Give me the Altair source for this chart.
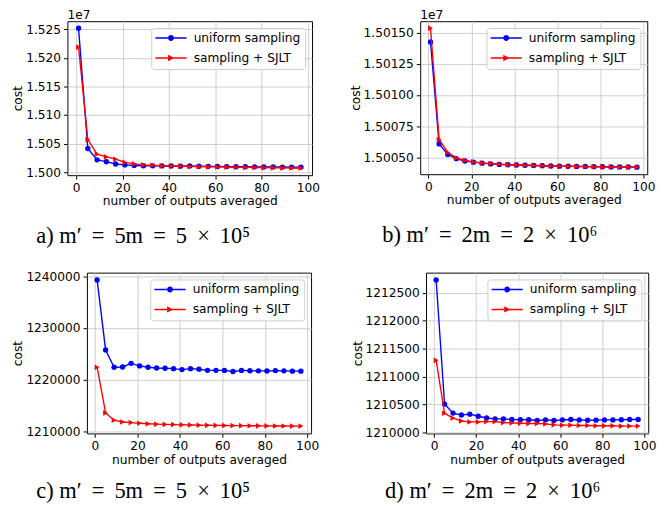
import altair as alt
import pandas as pd

# ---------------- data ----------------
N = [1, 5, 9, 13, 17, 21, 25, 29, 33, 37, 41, 45, 49, 53, 57, 61, 65, 69, 73, 77, 81, 85, 89, 93, 97]
SERIES = ["uniform sampling", "sampling + SJLT"]
COLORS = ["#0000ff", "#ff0000"]

A_UNIFORM = [15252000, 15041500, 15021600, 15018500, 15014300, 15012700, 15011800, 15011300, 15011200,
             15011000, 15010800, 15010600, 15010800, 15010400, 15010200, 15010000, 15009800, 15009600,
             15009500, 15009400, 15009200, 15009200, 15009000, 15008900, 15008800]
A_SJLT = [15219000, 15057000, 15031500, 15026800, 15022800, 15017200, 15014500, 15012700, 15012000,
          15011200, 15010800, 15010400, 15010000, 15009700, 15009400, 15009200, 15008900, 15008600,
          15008400, 15008200, 15007900, 15007700, 15007500, 15007300, 15007000]

B_UNIFORM = [15014250, 15006100, 15005250, 15004920, 15004730, 15004640, 15004560, 15004500, 15004460,
             15004430, 15004410, 15004390, 15004370, 15004350, 15004330, 15004320, 15004310, 15004300,
             15004290, 15004280, 15004270, 15004260, 15004260, 15004250, 15004240]
B_SJLT = [15015350, 15006450, 15005420, 15004970, 15004770, 15004660, 15004580, 15004520, 15004470,
          15004440, 15004410, 15004390, 15004370, 15004350, 15004330, 15004310, 15004300, 15004290,
          15004280, 15004270, 15004260, 15004250, 15004240, 15004240, 15004230]

C_UNIFORM = [1239300, 1225750, 1222400, 1222450, 1223150, 1222650, 1222400, 1222250, 1222200,
             1222130, 1221950, 1222130, 1222020, 1221800, 1221800, 1221780, 1221580, 1221780,
             1221720, 1221700, 1221690, 1221750, 1221700, 1221640, 1221640]
C_SJLT = [1222400, 1213550, 1212150, 1211800, 1211680, 1211560, 1211450, 1211380, 1211330,
          1211290, 1211250, 1211220, 1211190, 1211160, 1211140, 1211120, 1211100, 1211090,
          1211070, 1211060, 1211040, 1211030, 1211020, 1211010, 1211000]

D_UNIFORM = [1212730, 1210505, 1210343, 1210310, 1210325, 1210287, 1210256, 1210241, 1210240,
             1210229, 1210226, 1210225, 1210211, 1210222, 1210210, 1210222, 1210228, 1210221,
             1210215, 1210217, 1210221, 1210221, 1210224, 1210228, 1210229]
D_SJLT = [1211290, 1210341, 1210255, 1210203, 1210185, 1210185, 1210191, 1210191, 1210174,
          1210168, 1210162, 1210156, 1210156, 1210150, 1210133, 1210127, 1210127, 1210122,
          1210122, 1210116, 1210116, 1210116, 1210110, 1210110, 1210110]

X_TICKS = [0, 20, 40, 60, 80, 100]
A_TICKS = [15000000, 15050000, 15100000, 15150000, 15200000, 15250000]
B_TICKS = [15005000, 15007500, 15010000, 15012500, 15015000]
C_TICKS = [1210000, 1220000, 1230000, 1240000]
D_TICKS = [1210000, 1210500, 1211000, 1211500, 1212000, 1212500]

T = "\u2009"
CAPTIONS = [f"a) m\u2032 {T}={T} 5m {T}={T} 5 {T}\u00d7{T} 10\u2075",
            f"b) m\u2032 {T}={T} 2m {T}={T} 2 {T}\u00d7{T} 10\u2076",
            f"c) m\u2032 {T}={T} 5m {T}={T} 5 {T}\u00d7{T} 10\u2075",
            f"d) m\u2032 {T}={T} 2m {T}={T} 2 {T}\u00d7{T} 10\u2076"]

# legend glyphs: line segment + marker (unit coords, scaled by sqrt(size)/2)
LEG_CIRCLE = ("M-1.2,-0.15H5.2V0.15H-1.2Z "
              "M1.4,0A0.6,0.6 0 1,1 2.6,0A0.6,0.6 0 1,1 1.4,0Z")
LEG_TRI = ("M-1.2,-0.15H5.2V0.15H-1.2Z "
           "M1.4,-0.65L2.7,0L1.4,0.65Z")

FONT = "DejaVu Sans"
FS = 12.5
IND = dict(color="independent", shape="independent")


def panel(u, s, w, h, yticks, ylabel_expr, caption, cap_dx, cap_offset, offset_text=None):
    df = pd.DataFrame({
        "n": N + N,
        "cost": u + s,
        "series": [SERIES[0]] * len(N) + [SERIES[1]] * len(N),
    })
    lo, hi = min(u + s), max(u + s)
    pad = (hi - lo) * 0.05
    xlo, xhi = min(N), max(N)
    xpad = (xhi - xlo) * 0.05
    x = alt.X("n:Q", scale=alt.Scale(domain=[xlo - xpad, xhi + xpad], nice=False, zero=False),
              axis=alt.Axis(values=X_TICKS, title="number of outputs averaged", format="d"))
    y = alt.Y("cost:Q", scale=alt.Scale(domain=[lo - pad, hi + pad], nice=False, zero=False),
              axis=alt.Axis(values=yticks, labelExpr=ylabel_expr, title="cost"))
    base = alt.Chart(df).encode(x=x, y=y)
    blue = base.transform_filter(alt.datum.series == SERIES[0]).mark_line(
        color=COLORS[0], strokeWidth=1.4,
        point=alt.OverlayMarkDef(shape="circle", filled=True, size=30, color=COLORS[0], opacity=1))
    red = base.transform_filter(alt.datum.series == SERIES[1]).mark_line(
        color=COLORS[1], strokeWidth=1.4,
        point=alt.OverlayMarkDef(shape="triangle-right", filled=True, size=34, color=COLORS[1], opacity=1))
    leg = alt.Legend(title=None, orient="top-right", offset=7, padding=4, rowPadding=7.5,
                     symbolSize=100, symbolStrokeWidth=0, symbolOpacity=1, labelOffset=27,
                     labelFont=FONT, labelFontSize=FS, labelColor="black", labelLimit=400,
                     fillColor="rgba(255,255,255,0.8)", strokeColor="#cccccc", cornerRadius=3)
    legend_layer = base.mark_point(filled=True, opacity=0, size=1).encode(
        color=alt.Color("series:N", scale=alt.Scale(domain=SERIES, range=COLORS), legend=leg),
        shape=alt.Shape("series:N", scale=alt.Scale(domain=SERIES, range=[LEG_CIRCLE, LEG_TRI]), legend=leg),
    )
    layers = [blue, red, legend_layer]
    if offset_text:
        t = alt.Chart(pd.DataFrame({"t": [offset_text]})).mark_text(
            align="left", baseline="alphabetic", font=FONT, fontSize=FS, color="black"
        ).encode(x=alt.value(0), y=alt.value(-2), text="t:N")
        layers.append(t)
    return alt.layer(*layers).properties(
        width=w, height=h,
        title=alt.TitleParams(caption, orient="bottom", anchor="start", frame="group", dx=cap_dx,
                              offset=cap_offset, font="Liberation Serif", fontSize=23,
                              fontWeight="normal", color="black"),
    )


def spacer():
    return alt.Chart(pd.DataFrame({"v": [0]})).mark_point(size=0, opacity=0).encode(
        x=alt.value(0), y=alt.value(0)
    ).properties(width=1, height=1, view=alt.ViewBackground(stroke="transparent"))


pa = panel(A_UNIFORM, A_SJLT, 251, 158, A_TICKS, "format(datum.value / 1e7, '.3f')", CAPTIONS[0], -32, 19, "1e7")
pb = panel(B_UNIFORM, B_SJLT, 233, 157, B_TICKS, "format(datum.value / 1e7, '.5f')", CAPTIONS[1], -39, 19, "1e7")
pc = panel(C_UNIFORM, C_SJLT, 230, 165, C_TICKS, "format(datum.value, 'd')", CAPTIONS[2], -52, 15)
pd_ = panel(D_UNIFORM, D_SJLT, 228, 165, D_TICKS, "format(datum.value, 'd')", CAPTIONS[3], -42, 15)

ab = alt.hconcat(pa, pb, spacing=28).resolve_scale(**IND).resolve_legend(**IND)
cd = alt.hconcat(pc, pd_, spacing=31).resolve_scale(**IND).resolve_legend(**IND)
row1 = alt.hconcat(spacer(), ab, spacing=0).resolve_scale(**IND).resolve_legend(**IND)
row2 = alt.hconcat(spacer(), cd, spacing=0).resolve_scale(**IND).resolve_legend(**IND)

chart = alt.vconcat(row1, row2, spacing=21).resolve_scale(**IND).resolve_legend(**IND).properties(
    padding={"left": 0, "top": -6, "right": 0, "bottom": 0}, background="white"
).configure_view(stroke="black", strokeWidth=1).configure_axis(
    labelFont=FONT, labelFontSize=FS, labelColor="black",
    titleFont=FONT, titleFontSize=FS, titleFontWeight="normal", titleColor="black",
    tickColor="black", tickSize=4, tickWidth=1, labelPadding=3, titlePadding=1,
    domain=False, grid=True, gridColor="#c8c8c8", gridWidth=0.9,
)

chart.save("out.html", embed_options={"renderer": "svg", "actions": False})
